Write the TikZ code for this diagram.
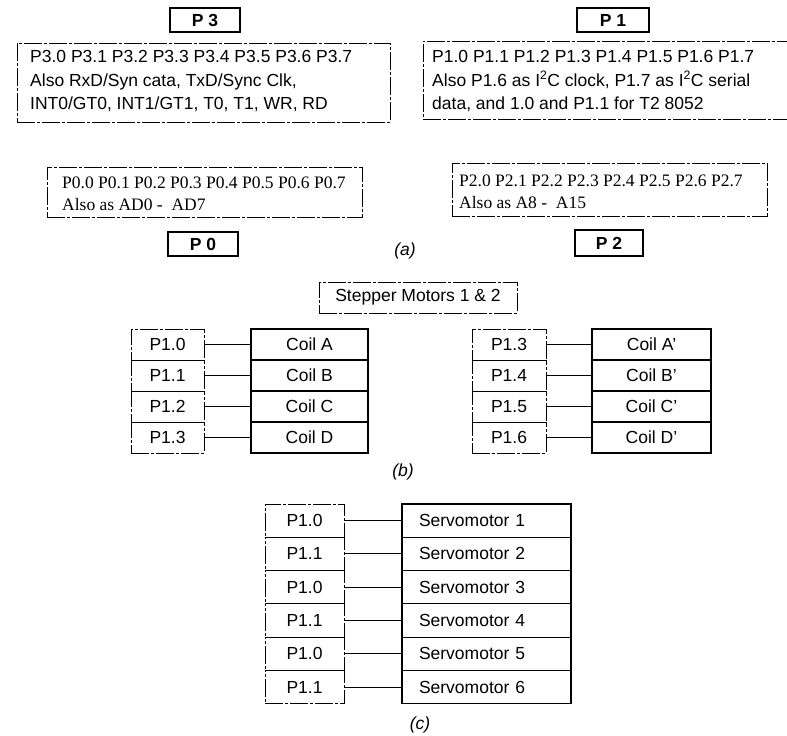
\documentclass[tikz,border=0pt]{standalone}
\usepackage{fontspec}
\setmainfont{Liberation Sans}
\newfontfamily\timesf{Liberation Serif}
\begin{document}
\begin{tikzpicture}[x=1pt,y=-1pt,
  font=\fontsize{17.5}{21}\selectfont,
  brk/.style={draw, line width=0.9pt, dash pattern=on 18pt off 2pt on 3pt off 2pt},
  solidbox/.style={draw, line width=1.1pt},
  frame/.style={brk, inner sep=0pt, outer sep=0pt, anchor=north west},
  lbl/.style={solidbox, inner sep=0pt, outer sep=0pt, font=\fontsize{17.5}{21}\selectfont\bfseries},
  txt/.style={inner sep=0pt, anchor=base west},
  serif/.style={txt, font=\fontsize{17.5}{21}\selectfont\timesf},
  pinbox/.style={brk, inner sep=0pt, outer sep=0pt, anchor=north west},
  coil/.style={solidbox, inner sep=0pt, outer sep=0pt, anchor=north west},
  wire/.style={line width=1pt},
  capt/.style={inner sep=0pt, font=\fontsize{17.5}{21}\selectfont\itshape}
]
\useasboundingbox (0,0) rectangle (787,736);

% ---------- (a) ----------
\node[lbl, minimum width=70pt, minimum height=24pt] (p3lab) at (205,20) {P 3};
\node[lbl, minimum width=72pt, minimum height=24pt] (p1lab) at (613,20) {P 1};
\node[lbl, minimum width=70pt, minimum height=24pt] (p0lab) at (203,244) {P 0};
\node[lbl, minimum width=68pt, minimum height=26pt] (p2lab) at (609,243) {P 2};

\node[frame, minimum width=373pt, minimum height=79pt] (p3box) at (17,43) {};
\node[txt] (p3a) at (30,62) {P3.0 P3.1 P3.2 P3.3 P3.4 P3.5 P3.6 P3.7};
\node[txt] (p3b) at (30,86) {Also RxD/Syn cata, TxD/Sync Clk,};
\node[txt] (p3c) at (30,109) {INT0/GT0, INT1/GT1, T0, T1, WR, RD};

\node[frame, minimum width=372pt, minimum height=78pt] (p1box) at (423,41) {};
\node[txt] (p1a) at (432,62) {P1.0 P1.1 P1.2 P1.3 P1.4 P1.5 P1.6 P1.7};
\node[txt] (p1b) at (432,86) {Also P1.6 as I\textsuperscript{2}C clock, P1.7 as I\textsuperscript{2}C serial};
\node[txt] (p1c) at (432,109) {data, and 1.0 and P1.1 for T2 8052};

\node[frame, minimum width=315pt, minimum height=50pt] (p0box) at (47,167) {};
\node[serif] (p0a) at (62,188) {P0.0 P0.1 P0.2 P0.3 P0.4 P0.5 P0.6 P0.7};
\node[serif] (p0b) at (62,210) {Also as AD0 -\ \ AD7};

\node[frame, minimum width=315pt, minimum height=53pt] (p2box) at (452,163) {};
\node[serif] (p2a) at (459,186) {P2.0 P2.1 P2.2 P2.3 P2.4 P2.5 P2.6 P2.7};
\node[serif] (p2b) at (459,208) {Also as A8 -\ \ A15};

\node[capt] (capa) at (405,251) {(a)};

% ---------- (b) ----------
\node[brk, inner sep=0pt, minimum width=198pt, minimum height=31pt] (stepbox) at (418,297.5) {Stepper Motors 1 \& 2};

\foreach \p/\c [count=\i from 0] in {P1.0/Coil A, P1.1/Coil B, P1.2/Coil C, P1.3/Coil D}{
  \node[pinbox, minimum width=73pt, minimum height=31pt] (lp\i) at (131,{329+31*\i}) {\p};
  \node[coil, minimum width=117pt, minimum height=31pt] (lc\i) at (251,{329+31*\i}) {\c};
  \draw[wire] (lp\i.east) -- (lc\i.west);
}
\foreach \p/\c [count=\i from 0] in {P1.3/Coil A', P1.4/Coil B', P1.5/Coil C', P1.6/Coil D'}{
  \node[pinbox, minimum width=74pt, minimum height=31pt] (rp\i) at (472,{329+31*\i}) {\p};
  \node[coil, minimum width=119pt, minimum height=31pt] (rc\i) at (592,{329+31*\i}) {\c};
  \draw[wire] (rp\i.east) -- (rc\i.west);
}
\node[capt] (capb) at (403,472) {(b)};

% ---------- (c) ----------
\foreach \p/\s [count=\i from 0] in {P1.0/1, P1.1/2, P1.0/3, P1.1/4, P1.0/5, P1.1/6}{
  \node[pinbox, minimum width=79pt, minimum height=33.3pt] (sp\i) at (265,{504+33.3*\i}) {\p};
  \node[coil, minimum height=33.3pt, inner xsep=17pt, text width=135pt, align=left] (sc\i) at (402,{504+33.3*\i}) {Servomotor \s};
  \draw[wire] (sp\i.east) -- (sc\i.west);
}
\node[capt] (capc) at (420,725) {(c)};
\end{tikzpicture}
\end{document}
